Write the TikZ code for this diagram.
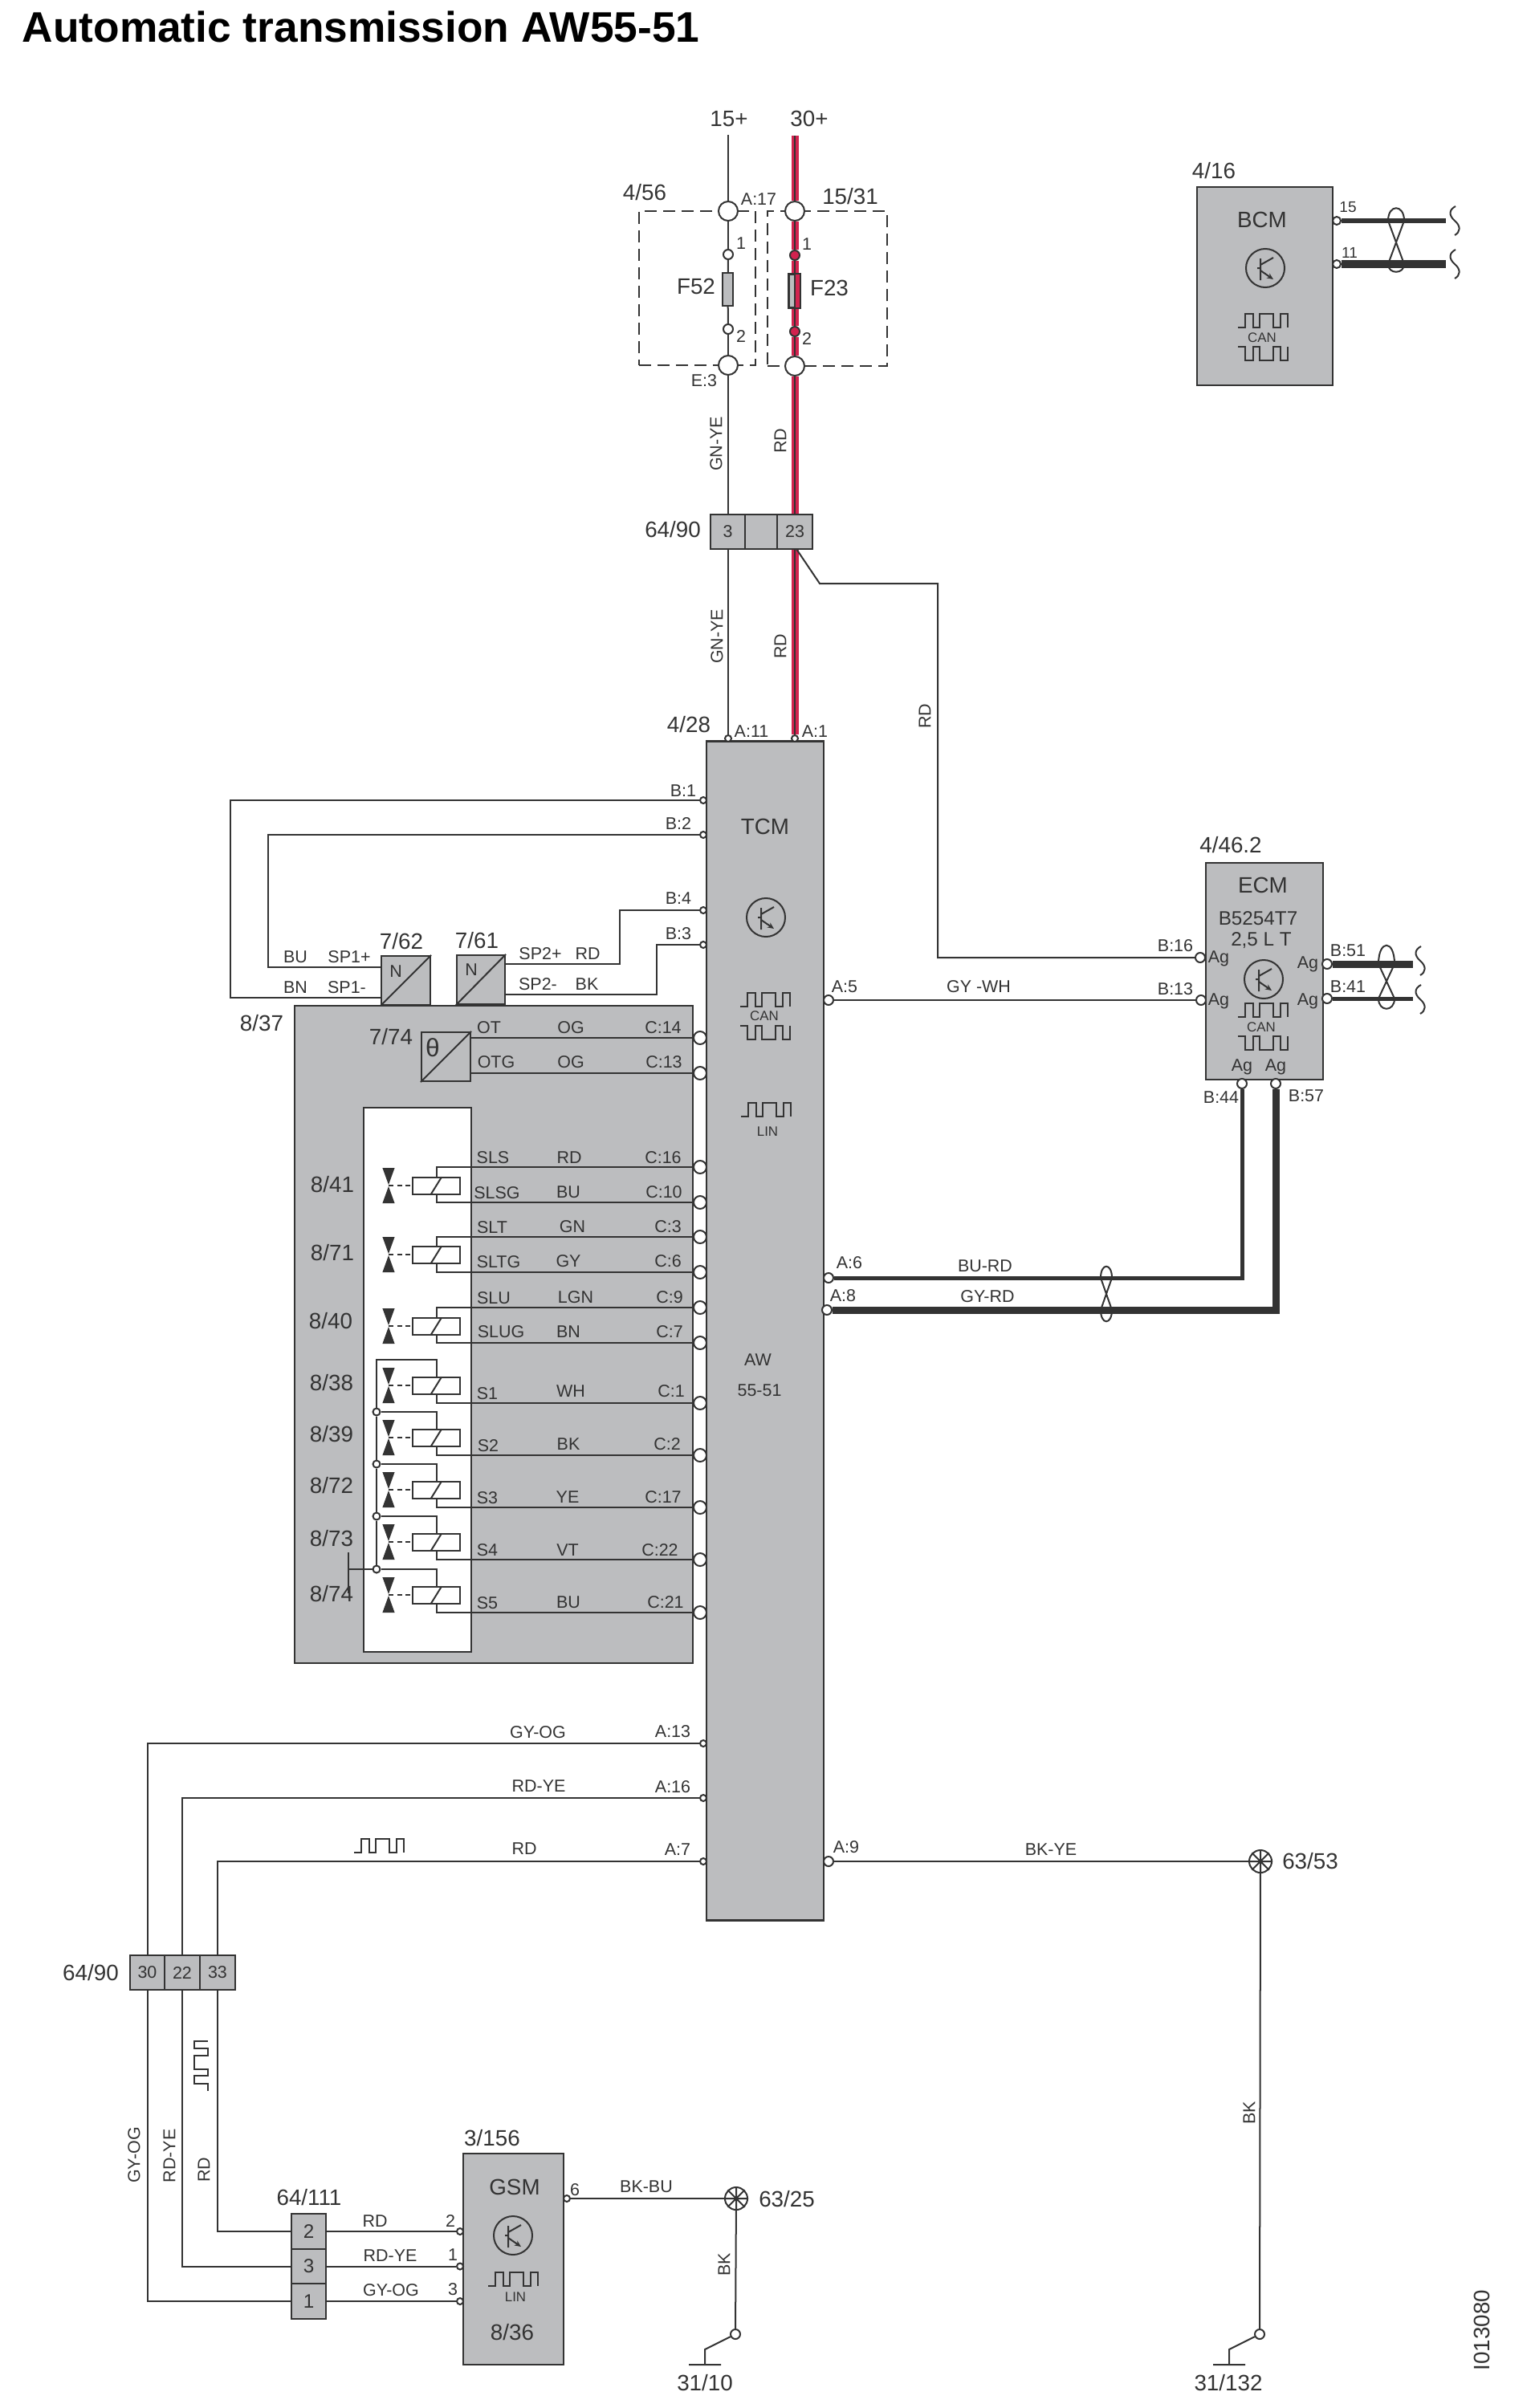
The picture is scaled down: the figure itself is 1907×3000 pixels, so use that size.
\documentclass[tikz,border=0pt]{standalone}
\usepackage{fontspec}
\setmainfont{Liberation Sans}
\usetikzlibrary{arrows.meta}
\definecolor{partgrey}{HTML}{BCBDBF}
\definecolor{inkcol}{HTML}{333333}
\definecolor{feedred}{HTML}{D2234F}
\tikzset{
  wire/.style={draw=inkcol, line width=0.02cm},
  midwire/.style={draw=inkcol, line width=0.05cm},
  fatwire/.style={draw=inkcol, line width=0.09cm},
  feed/.style={draw=feedred, double=inkcol, double distance=0.02cm, line width=0.035cm},
  part/.style={draw=inkcol, fill=partgrey, line width=0.022cm, inner sep=0pt},
  blank/.style={part, fill=white},
  dashbox/.style={draw=inkcol, line width=0.02cm, inner sep=0pt, dash pattern=on 0.15cm off 0.08cm},
  fuse/.style={part, minimum width=0.13cm, minimum height=0.41cm},
  cell/.style={part, tag, font=\fontsize{6.1}{7}\selectfont},
  port/.style={circle, draw=inkcol, fill=white, line width=0.02cm, inner sep=0pt},
  dotport/.style={port, minimum size=0.08cm},
  midport/.style={port, minimum size=0.12cm},
  wideport/.style={port, minimum size=0.16cm},
  hugeport/.style={port, minimum size=0.24cm},
  redport/.style={midport, fill=feedred},
  mass/.style={port, minimum size=0.28cm},
  tag/.style={text=inkcol, inner sep=0pt, font=\fontsize{7.9}{9}\selectfont},
  lbl/.style={text=inkcol, inner sep=0pt, font=\fontsize{6.1}{7}\selectfont},
  midlbl/.style={text=inkcol, inner sep=0pt, font=\fontsize{6.9}{8}\selectfont},
  tiny/.style={text=inkcol, inner sep=0pt, font=\fontsize{4.8}{6}\selectfont},
  pulse/.pic={
    \draw[wire] (0,0) -- (9.3,0) -- (9.3,-17) -- (18.7,-17) -- (18.7,0) -- (27,0) -- (27,-17)
      -- (43.7,-17) -- (43.7,0) -- (52.7,0) -- (52.7,-17) -- (62,-17) -- (62,0);
  },
  transistor/.pic={
    \draw[wire] (0,0) circle[radius=24];
    \draw[wire] (-10,0) -- (-6,0) (-6,-12) -- (-6,15) (-6,-4) -- (10,-13);
    \draw[wire, -{Stealth[length=0.08cm, width=0.07cm]}] (-6,3) -- (10,14);
  },
  coil/.pic={
    \fill[inkcol] (-7.6,-22) -- (7.6,-22) -- (0,-1) -- cycle;
    \fill[inkcol] (-7.6,22) -- (7.6,22) -- (0,1) -- cycle;
    \draw[wire, dash pattern=on 0.06cm off 0.045cm] (0,0) -- (30,0);
    \draw[wire] (30,-10.5) rectangle (89,10.5);
    \draw[wire] (53,10.5) -- (66,-10.5);
    \coordinate (-t) at (60,-10.5);
    \coordinate (-b) at (60,10.5);
  },
  bus break/.pic={
    \draw[wire] (1,-18) .. controls (-7,-14) and (-8,-7) .. (0,0) .. controls (8,7) and (7,14) .. (0,18);
  }
}
\newcommand{\wiretwist}[6]{%
  \draw[wire] (#1-#6,#2) .. controls (#1-#6,#4) and (#1+#6,#4) .. (#1+#6,#2)
    -- (#1-#6,#3) .. controls (#1-#6,#5) and (#1+#6,#5) .. (#1+#6,#3) -- cycle;
}
\newcommand{\spokes}[1]{%
  \draw[wire] (#1.north) -- (#1.south) (#1.east) -- (#1.west) (#1.45) -- (#1.225) (#1.135) -- (#1.315);
}
\begin{document}
\begin{tikzpicture}[x=0.01cm, y=-0.01cm]
   \useasboundingbox (0,0) rectangle (1907,3000);
   \node[text=black, inner sep=0pt, anchor=west, font=\fontsize{15.15}{18}\selectfont\bfseries] (title) at (27,33) {Automatic transmission AW55-51};

   \node[tag] (lbl15) at (908,148) {15+};
   \node[tag] (lbl30) at (1008,148) {30+};
   \node[dashbox, minimum width=1.45cm, minimum height=1.92cm] (box456) at (868.5,359) {};
   \node[dashbox, minimum width=1.49cm, minimum height=1.93cm] (box1531) at (1030.5,359.5) {};
   \node[tag] (lbl456) at (803,240) {4/56};
   \node[tag] (lbl1531) at (1059,245) {15/31};
   \node[lbl] (lblA17) at (945,248) {A:17};
   \node[lbl] (lblE3) at (877,474) {E:3};
   \node[tag] (lblF52) at (867,357) {F52};
   \node[tag] (lblF23) at (1033,359) {F23};
   \node[lbl] (lblp1a) at (923,303) {1};
   \node[lbl] (lblp2a) at (923,419) {2};
   \node[lbl] (lblp1b) at (1005,304) {1};
   \node[lbl] (lblp2b) at (1005,422) {2};

   \coordinate (top15) at (907,168);
   \coordinate (top30) at (990,169);
   \node[hugeport] (a17) at (907,263) {};
   \node[hugeport] (e3) at (907,455) {};
   \node[hugeport] (in30) at (990,263) {};
   \node[hugeport] (out30) at (990,456) {};
   \node[midport] (f52a) at (907,317) {};
   \node[midport] (f52b) at (907,410) {};
   \node[redport] (f23a) at (990,318) {};
   \node[redport] (f23b) at (990,413) {};
   \node[fuse] (f52) at (906.5,360.5) {};
   \draw[wire] (top15) -- (a17);
   \draw[wire] (a17) -- (f52a);
   \draw[wire] (f52a) -- (f52);
   \draw[wire] (f52) -- (f52b);
   \draw[wire] (f52b) -- (e3);
   \draw[feed] (top30) -- (in30);
   \draw[feed] (in30) -- (f23a);
   \draw[feed] (f23a) -- (f23b);
   \draw[feed] (f23b) -- (out30);
   \node[fuse] (f23) at (989.5,362.5) {};
   \fill[feedred] (f23.north) rectangle (f23.south east);
   \draw[wire] (f23.north) -- (f23.south);
   \draw[wire] (f23.north west) rectangle (f23.south east);

   \node[tag] (lbl6490a) at (838,660) {64/90};
   \node[cell, minimum width=0.43cm, minimum height=0.43cm] (x3) at (906.5,662.5) {3};
   \node[cell, minimum width=0.40cm, minimum height=0.43cm] (xmid) at (948,662.5) {};
   \node[cell, minimum width=0.44cm, minimum height=0.43cm] (x23) at (990,662.5) {23};
   \draw[wire] (e3) -- (e3 |- x3.north);
   \draw[feed] (out30) -- (out30 |- x23.north);
   \node[lbl, rotate=90] (lblgnye1) at (892,553) {GN-YE};
   \node[lbl, rotate=90] (lblrd1) at (972,549) {RD};
   \node[lbl, rotate=90] (lblgnye2) at (893,793) {GN-YE};
   \node[lbl, rotate=90] (lblrd2) at (972,805) {RD};
   \node[lbl, rotate=90] (lblrd3) at (1152,892) {RD};

   \node[part, minimum width=1.46cm, minimum height=14.68cm] (tcm) at (953,1658) {};
   \node[tag] (lbl428) at (858,903) {4/28};
   \node[dotport] (a11) at (907,920) {};
   \node[dotport] (a1) at (990,920) {};
   \node[lbl] (lblA11) at (936,911) {A:11};
   \node[lbl] (lblA1) at (1015,911) {A:1};
   \draw[wire] (a11 |- x3.south) -- (a11);
   \draw[feed] (a1 |- x23.south) -- (a1);
   \node[tag] (lblTCM) at (953,1030) {TCM};
   \pic at (954,1143) {transistor};
   \pic at (922,1254) {pulse};
   \node[tiny] (lblcan1) at (952,1266) {CAN};
   \pic[yscale=-1] at (922,1278) {pulse};
   \pic at (923,1391) {pulse};
   \node[tiny] (lbllin1) at (956,1410) {LIN};
   \node[lbl] (lblAW) at (944,1694) {AW};
   \node[lbl] (lblAWn) at (946,1732) {55-51};

   \node[part, minimum width=1.69cm, minimum height=2.47cm] (bcm) at (1575.5,356.5) {};
   \node[tag] (lbl416) at (1512,213) {4/16};
   \node[tag] (lblBCM) at (1572,274) {BCM};
   \pic at (1576,334) {transistor};
   \pic at (1542,408) {pulse};
   \node[tiny] (lblcan2) at (1572,421) {CAN};
   \pic[yscale=-1] at (1542,432) {pulse};
   \node[midport, minimum size=0.1cm] (b15) at (1665,275) {};
   \node[midport, minimum size=0.1cm] (b11) at (1665,329) {};
   \coordinate (b15end) at (1801,275);
   \coordinate (b11end) at (1801,329);
   \draw[wire, line width=0.06cm] (b15) -- (b15end);
   \draw[fatwire] (b11) -- (b11end);
   \node[text=inkcol, inner sep=0pt, font=\fontsize{5.4}{6}\selectfont] (lblb15) at (1679,258) {15};
   \node[text=inkcol, inner sep=0pt, font=\fontsize{5.4}{6}\selectfont] (lblb11) at (1681,315) {11};
   \wiretwist{1739}{275}{329}{254}{342}{10}
   \pic at (1812,275) {bus break};
   \pic at (1812,329) {bus break};

   \node[part, minimum width=1.46cm, minimum height=2.70cm] (ecm) at (1575,1210) {};
   \node[tag] (lbl462) at (1533,1053) {4/46.2};
   \node[tag] (lblECM) at (1573,1103) {ECM};
   \node[midlbl] (lblB52) at (1567,1144) {B5254T7};
   \node[midlbl] (lbl25) at (1571,1172) {2,5 L T};
   \pic at (1574,1220) {transistor};
   \pic at (1542,1267) {pulse};
   \node[tiny] (lblcan3) at (1571,1280) {CAN};
   \pic[yscale=-1] at (1542,1291) {pulse};
   \node[lbl] (agl1) at (1518,1194) {Ag};
   \node[lbl] (agl2) at (1518,1247) {Ag};
   \node[lbl] (agr1) at (1629,1201) {Ag};
   \node[lbl] (agr2) at (1629,1247) {Ag};
   \node[lbl] (agb1) at (1547,1329) {Ag};
   \node[lbl] (agb2) at (1589,1329) {Ag};
   \node[midport] (b16) at (1495,1193) {};
   \node[midport] (b13) at (1496,1246) {};
   \node[midport] (b51) at (1653,1201) {};
   \node[midport] (b41) at (1653,1244) {};
   \node[midport] (b44) at (1547,1350) {};
   \node[midport] (b57) at (1589,1350) {};
   \node[lbl] (lblB16) at (1464,1178) {B:16};
   \node[lbl] (lblB13) at (1464,1232) {B:13};
   \node[lbl] (lblB51) at (1679,1184) {B:51};
   \node[lbl] (lblB41) at (1679,1229) {B:41};
   \node[lbl] (lblB44) at (1521,1367) {B:44};
   \node[lbl] (lblB57) at (1627,1365) {B:57};
   \coordinate (b51end) at (1760,1201);
   \coordinate (b41end) at (1760,1244);
   \draw[fatwire] (b51) -- (b51end);
   \draw[midwire] (b41) -- (b41end);
   \wiretwist{1727}{1201}{1244}{1170}{1261}{10}
   \pic at (1769,1197) {bus break};
   \pic at (1769,1245) {bus break};

   \coordinate (brstart) at (992,684);
   \coordinate (brbend) at (1021,727);
   \coordinate (brcorner) at (1168,727);
   \draw[wire] (brstart) -- (brbend) -- (brcorner) |- (b16);

   \node[midport] (a5) at (1032,1246) {};
   \node[lbl] (lblA5) at (1052,1229) {A:5};
   \node[lbl] (lblgywh) at (1219,1229) {GY -WH};
   \draw[wire] (a5) -- (b13);
   \node[midport] (a6) at (1032,1592) {};
   \node[midport] (a8) at (1030,1632) {};
   \node[lbl] (lblA6) at (1058,1573) {A:6};
   \node[lbl] (lblA8) at (1050,1614) {A:8};
   \node[lbl] (lblburd) at (1227,1577) {BU-RD};
   \node[lbl] (lblgyrd) at (1230,1615) {GY-RD};
   \draw[midwire] (a6) -| (b44);
   \draw[fatwire] (a8) -| (b57);
   \wiretwist{1378}{1592}{1632}{1573}{1651}{7}

   \node[part, minimum width=4.96cm, minimum height=8.19cm] (sol) at (615,1662.5) {};
   \node[tag] (lbl837) at (326,1275) {8/37};
   \node[blank, minimum width=1.34cm, minimum height=6.78cm] (valves) at (520,1719) {};
   \node[part, minimum width=0.61cm, minimum height=0.61cm] (s762) at (505.5,1221.5) {};
   \node[part, minimum width=0.60cm, minimum height=0.61cm] (s761) at (599,1220.5) {};
   \node[part, minimum width=0.61cm, minimum height=0.61cm] (t774) at (555.5,1316.5) {};
   \draw[wire] (s762.south west) -- (s762.north east);
   \draw[wire] (s761.south west) -- (s761.north east);
   \draw[wire] (t774.south west) -- (t774.north east);
   \node[lbl] (lblN1) at (493,1210) {N};
   \node[lbl] (lblN2) at (587,1208) {N};
   \node[tag] (lbl762) at (500,1173) {7/62};
   \node[tag] (lbl761) at (594,1172) {7/61};
   \node[tag] (lbl774) at (487,1292) {7/74};
   \node[text=inkcol, inner sep=0pt, font=\fontsize{9}{10}\selectfont] (lbltheta) at (539,1305) {θ};
   \node[lbl] (lblBU1) at (368,1192) {BU};
   \node[lbl] (lblSP1p) at (435,1192) {SP1+};
   \node[lbl] (lblBN1) at (368,1230) {BN};
   \node[lbl] (lblSP1m) at (432,1230) {SP1-};
   \node[lbl] (lblSP2p) at (673,1188) {SP2+};
   \node[lbl] (lblRD4) at (732,1188) {RD};
   \node[lbl] (lblSP2m) at (670,1226) {SP2-};
   \node[lbl] (lblBK1) at (731,1226) {BK};

   \node[dotport] (pb1) at (876,997) {};
   \node[dotport] (pb2) at (876,1040) {};
   \node[dotport] (pb4) at (876,1134) {};
   \node[dotport] (pb3) at (876,1177) {};
   \node[lbl] (lblB1) at (851,985) {B:1};
   \node[lbl] (lblB2) at (845,1026) {B:2};
   \node[lbl] (lblB4) at (845,1119) {B:4};
   \node[lbl] (lblB3) at (845,1163) {B:3};
   \coordinate (sp1m) at (475,1243);
   \coordinate (sp1p) at (475,1205);
   \coordinate (sp2p) at (629,1201);
   \coordinate (sp2m) at (629,1239);
   \coordinate (b1bend) at (287,997);
   \coordinate (b2bend) at (334,1040);
   \coordinate (b4bend) at (772,1134);
   \coordinate (b3bend) at (818,1177);
   \draw[wire] (pb1) -- (b1bend) |- (sp1m);
   \draw[wire] (pb2) -- (b2bend) |- (sp1p);
   \draw[wire] (pb4) -- (b4bend) |- (sp2p);
   \draw[wire] (pb3) -- (b3bend) |- (sp2m);

   \node[wideport] (c14) at (872,1293) {};
   \node[wideport] (c13) at (872,1337) {};
   \coordinate (ot) at (586,1293);
   \coordinate (otg) at (586,1337);
   \draw[wire] (ot) -- (c14);
   \draw[wire] (otg) -- (c13);
   \node[lbl] (lblOT) at (609,1280) {OT};
   \node[lbl] (lblOG1) at (711,1280) {OG};
   \node[lbl] (lblC14) at (826,1280) {C:14};
   \node[lbl] (lblOTG) at (618,1323) {OTG};
   \node[lbl] (lblOG2) at (711,1323) {OG};
   \node[lbl] (lblC13) at (827,1323) {C:13};

   \pic (sls) at (484,1477) {coil};
   \pic (slt) at (484,1563) {coil};
   \pic (slu) at (484,1652) {coil};
   \pic (so1) at (484,1726) {coil};
   \pic (so2) at (484,1791) {coil};
   \pic (so3) at (484,1856) {coil};
   \pic (so4) at (484,1921) {coil};
   \pic (so5) at (484,1987) {coil};
   \node[wideport] (c16) at (872,1454) {};
   \node[wideport] (c10) at (872,1498) {};
   \node[wideport] (c3) at (872,1541) {};
   \node[wideport] (c6) at (872,1585) {};
   \node[wideport] (c9) at (872,1629) {};
   \node[wideport] (c7) at (872,1673) {};
   \node[wideport] (c1) at (872,1748) {};
   \node[wideport] (c2) at (872,1813) {};
   \node[wideport] (c17) at (872,1878) {};
   \node[wideport] (c22) at (872,1943) {};
   \node[wideport] (c21) at (872,2009) {};
   \draw[wire] (sls-t) |- (c16);
   \draw[wire] (sls-b) |- (c10);
   \draw[wire] (slt-t) |- (c3);
   \draw[wire] (slt-b) |- (c6);
   \draw[wire] (slu-t) |- (c9);
   \draw[wire] (slu-b) |- (c7);
   \draw[wire] (so1-b) |- (c1);
   \draw[wire] (so2-b) |- (c2);
   \draw[wire] (so3-b) |- (c17);
   \draw[wire] (so4-b) |- (c22);
   \draw[wire] (so5-b) |- (c21);
   \coordinate (comtop) at (469,1694);
   \coordinate (tiebar) at (434,1955);
   \node[dotport, minimum size=0.09cm] (j2) at (469,1759) {};
   \node[dotport, minimum size=0.09cm] (j3) at (469,1824) {};
   \node[dotport, minimum size=0.09cm] (j4) at (469,1889) {};
   \node[dotport, minimum size=0.09cm] (j5) at (469,1955) {};
   \draw[wire] (so1-t) |- (comtop) -- (j2);
   \draw[wire] (j2) -- (j3);
   \draw[wire] (j3) -- (j4);
   \draw[wire] (j4) -- (j5);
   \draw[wire] (so2-t) |- (j2);
   \draw[wire] (so3-t) |- (j3);
   \draw[wire] (so4-t) |- (j4);
   \draw[wire] (so5-t) |- (j5);
   \draw[wire] (j5) -- (tiebar);
   \draw[wire] (tiebar) ++(0,-21) -- ++(0,51);

   \node[tag] (lbl841) at (414,1476) {8/41};
   \node[tag] (lbl871) at (414,1561) {8/71};
   \node[tag] (lbl840) at (412,1646) {8/40};
   \node[tag] (lbl838) at (413,1723) {8/38};
   \node[tag] (lbl839) at (413,1787) {8/39};
   \node[tag] (lbl872) at (413,1851) {8/72};
   \node[tag] (lbl873) at (413,1917) {8/73};
   \node[tag] (lbl874) at (413,1986) {8/74};
   \node[lbl] (lblSLS) at (614,1442) {SLS};
   \node[lbl] (lblRD5) at (709,1442) {RD};
   \node[lbl] (lblC16) at (826,1442) {C:16};
   \node[lbl] (lblSLSG) at (619,1486) {SLSG};
   \node[lbl] (lblBU2) at (708,1485) {BU};
   \node[lbl] (lblC10) at (827,1485) {C:10};
   \node[lbl] (lblSLT) at (613,1529) {SLT};
   \node[lbl] (lblGN) at (713,1528) {GN};
   \node[lbl] (lblC3) at (832,1528) {C:3};
   \node[lbl] (lblSLTG) at (621,1572) {SLTG};
   \node[lbl] (lblGY) at (708,1571) {GY};
   \node[lbl] (lblC6) at (832,1571) {C:6};
   \node[lbl] (lblSLU) at (615,1617) {SLU};
   \node[lbl] (lblLGN) at (717,1616) {LGN};
   \node[lbl] (lblC9) at (834,1616) {C:9};
   \node[lbl] (lblSLUG) at (624,1659) {SLUG};
   \node[lbl] (lblBN2) at (708,1659) {BN};
   \node[lbl] (lblC7) at (834,1659) {C:7};
   \node[lbl] (lblS1) at (607,1736) {S1};
   \node[lbl] (lblWH) at (711,1733) {WH};
   \node[lbl] (lblC1) at (836,1733) {C:1};
   \node[lbl] (lblS2) at (608,1801) {S2};
   \node[lbl] (lblBK2) at (708,1799) {BK};
   \node[lbl] (lblC2) at (831,1799) {C:2};
   \node[lbl] (lblS3) at (607,1866) {S3};
   \node[lbl] (lblYE) at (707,1865) {YE};
   \node[lbl] (lblC17) at (826,1865) {C:17};
   \node[lbl] (lblS4) at (607,1931) {S4};
   \node[lbl] (lblVT) at (707,1931) {VT};
   \node[lbl] (lblC22) at (822,1931) {C:22};
   \node[lbl] (lblS5) at (607,1997) {S5};
   \node[lbl] (lblBU3) at (708,1996) {BU};
   \node[lbl] (lblC21) at (829,1996) {C:21};

   \node[dotport] (a13) at (876,2172) {};
   \node[dotport] (a16) at (876,2240) {};
   \node[dotport] (a7) at (876,2319) {};
   \node[lbl] (lblA13) at (838,2157) {A:13};
   \node[lbl] (lblA16) at (838,2226) {A:16};
   \node[lbl] (lblA7) at (844,2304) {A:7};
   \node[lbl] (lblgyog1) at (670,2158) {GY-OG};
   \node[lbl] (lblrdye1) at (671,2225) {RD-YE};
   \node[lbl] (lblrd6) at (653,2303) {RD};
   \pic at (441,2308) {pulse};
   \node[tag] (lbl6490b) at (113,2458) {64/90};
   \node[cell, minimum width=0.43cm, minimum height=0.43cm] (x30) at (183.5,2457.5) {30};
   \node[cell, minimum width=0.44cm, minimum height=0.43cm] (x22) at (227,2457.5) {22};
   \node[cell, minimum width=0.44cm, minimum height=0.43cm] (x33) at (271,2457.5) {33};
   \coordinate (a13bend) at (184,2172);
   \coordinate (a16bend) at (227,2240);
   \coordinate (a7bend) at (271,2319);
   \draw[wire] (a13) -- (a13bend) -- (a13bend |- x30.north);
   \draw[wire] (a16) -- (a16bend) -- (a16bend |- x22.north);
   \draw[wire] (a7) -- (a7bend) -- (a7bend |- x33.north);
   \pic[rotate=90] at (259,2605) {pulse};
   \node[lbl, rotate=90] (lblgyog2) at (167,2685) {GY-OG};
   \node[lbl, rotate=90] (lblrdye2) at (211,2686) {RD-YE};
   \node[lbl, rotate=90] (lblrd7) at (254,2703) {RD};

   \node[part, minimum width=0.43cm, minimum height=0.44cm] (y2) at (384.5,2780) {};
   \node[part, minimum width=0.43cm, minimum height=0.43cm] (y3) at (384.5,2823.5) {};
   \node[part, minimum width=0.43cm, minimum height=0.44cm] (y1) at (384.5,2867) {};
   \node[midlbl] (lbly2) at (384.5,2780) {2};
   \node[midlbl] (lbly3) at (384.5,2823.5) {3};
   \node[midlbl] (lbly1) at (384.5,2867) {1};
   \node[tag] (lbl64111) at (385,2738) {64/111};
   \draw[wire] (x33.south -| a7bend) |- (y2);
   \draw[wire] (x22.south -| a16bend) |- (y3);
   \draw[wire] (x30.south -| a13bend) |- (y1);

   \node[part, minimum width=1.25cm, minimum height=2.63cm] (gsm) at (639.5,2814.5) {};
   \node[tag] (lbl3156) at (613,2664) {3/156};
   \node[tag] (lblGSM) at (641,2725) {GSM};
   \pic at (639,2785) {transistor};
   \pic at (608,2848) {pulse};
   \node[tiny] (lbllin2) at (642,2862) {LIN};
   \node[tag] (lbl836) at (638,2906) {8/36};
   \node[dotport] (g2) at (573,2780) {};
   \node[dotport] (g1) at (573,2823.5) {};
   \node[dotport] (g3) at (573,2867) {};
   \node[dotport] (g6) at (706,2739) {};
   \draw[wire] (y2) -- (g2);
   \draw[wire] (y3) -- (g1);
   \draw[wire] (y1) -- (g3);
   \node[lbl] (lblrd8) at (467,2767) {RD};
   \node[lbl] (lblrdye3) at (486,2810) {RD-YE};
   \node[lbl] (lblgyog3) at (487,2853) {GY-OG};
   \node[lbl] (lblg2) at (561,2767) {2};
   \node[lbl] (lblg1) at (564,2809) {1};
   \node[lbl] (lblg3) at (564,2852) {3};
   \node[lbl] (lblg6) at (716,2728) {6};

   \node[mass] (m6325) at (917,2739) {};
   \spokes{m6325}
   \node[tag] (lbl6325) at (980,2740) {63/25};
   \node[lbl] (lblbkbu) at (805,2724) {BK-BU};
   \draw[wire] (g6) -- (m6325);
   \node[midport] (gnd10) at (916,2908) {};
   \draw[wire] (m6325) -- (gnd10);
   \draw[wire] (gnd10) -- ++(-38,19) -- ++(0,19) ++(-20,0) -- ++(40,0);
   \node[lbl, rotate=90] (lblbk3) at (902,2821) {BK};
   \node[tag] (lbl3110) at (878,2969) {31/10};

   \node[midport] (a9) at (1032,2319) {};
   \node[lbl] (lblA9) at (1054,2301) {A:9};
   \node[lbl] (lblbkye) at (1309,2304) {BK-YE};
   \node[mass] (m6353) at (1570,2319) {};
   \spokes{m6353}
   \node[tag] (lbl6353) at (1632,2319) {63/53};
   \draw[wire] (a9) -- (m6353);
   \node[midport] (gnd132) at (1569,2908) {};
   \draw[wire] (m6353) -- (gnd132);
   \draw[wire] (gnd132) -- ++(-38,19) -- ++(0,19) ++(-20,0) -- ++(40,0);
   \node[lbl, rotate=90] (lblbk4) at (1556,2632) {BK};
   \node[tag] (lbl31132) at (1530,2969) {31/132};
   \node[tag, rotate=90] (lbldoc) at (1846,2903) {I013080};
\end{tikzpicture}
\end{document}
